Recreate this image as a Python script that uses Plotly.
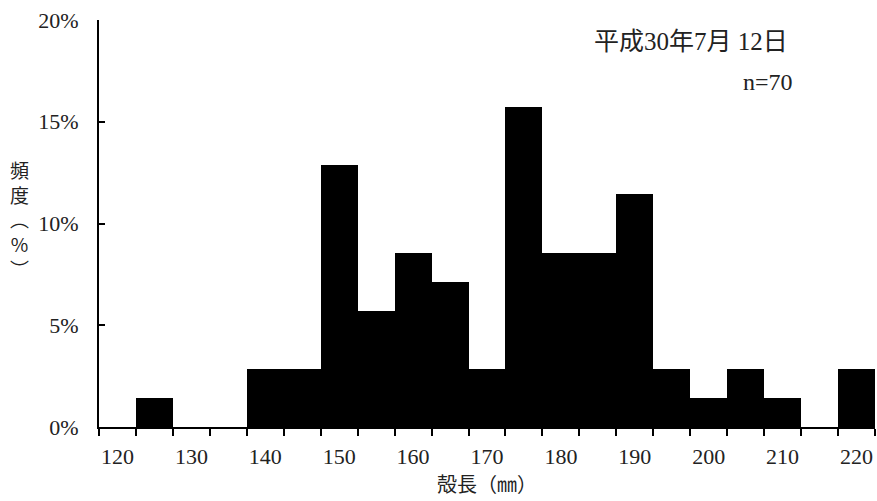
import plotly.graph_objects as go

# Shell length classes (mm, 5 mm bins) and individual counts
length_mm = [120, 125, 130, 135, 140, 145, 150, 155, 160, 165, 170,
             175, 180, 185, 190, 195, 200, 205, 210, 215, 220]
counts = [0, 1, 0, 0, 2, 2, 9, 4, 6, 5, 2,
          11, 6, 6, 8, 2, 1, 2, 1, 0, 2]
n_total = 70

x_tick_vals = [120, 130, 140, 150, 160, 170, 180, 190, 200, 210, 220]
y_tick_vals = [0, 0.05, 0.10, 0.15, 0.20]
y_tick_text = ["0%", "5%", "10%", "15%", "20%"]

freq = [c / n_total for c in counts]

# Serif for Latin/digits, CJK glyphs from Noto Sans CJK JP
FONT = "Liberation Serif, serif"
MIXED = "Liberation Serif, Noto Sans CJK JP"
CJK = "Noto Sans CJK JP"
TXT = "#222"

fig = go.Figure(go.Bar(
    x=length_mm,
    y=freq,
    width=5,
    marker=dict(color="black", line=dict(width=0)),
    hoverinfo="x+y",
))

fig.update_layout(
    width=877,
    height=501,
    margin=dict(l=99, r=2, t=20, b=74),
    paper_bgcolor="white",
    plot_bgcolor="white",
    bargap=0,
    showlegend=False,
    font=dict(family=FONT, size=21, color=TXT),
)

fig.update_xaxes(
    range=[117.5, 222.5],
    tickmode="array",
    tickvals=x_tick_vals,
    ticktext=[str(v) for v in x_tick_vals],
    ticks="",
    ticklabelstandoff=9,
    showline=True,
    linecolor="black",
    linewidth=2,
    showgrid=False,
    zeroline=False,
    tickfont=dict(family=FONT, size=22, color=TXT),
    minor=dict(ticks="outside", tick0=117.5, dtick=5, ticklen=7,
               tickwidth=2, tickcolor="black", showgrid=False),
    title=dict(text="殻長（㎜）", font=dict(family=CJK, size=20, color=TXT),
               standoff=10),
)

fig.update_yaxes(
    range=[0, 0.2],
    tickmode="array",
    tickvals=y_tick_vals,
    ticktext=y_tick_text,
    ticks="inside",
    ticklen=6,
    tickwidth=2,
    tickcolor="black",
    ticklabelstandoff=14,
    showline=True,
    linecolor="black",
    linewidth=2,
    showgrid=False,
    zeroline=False,
    tickfont=dict(family=FONT, size=22, color=TXT),
)

# Vertical axis title, characters stacked top to bottom
fig.add_annotation(
    xref="paper", yref="paper", x=-0.102, y=0.51,
    text="頻<br>度<br>︵<br>%<br>︶",
    showarrow=False, xanchor="center", yanchor="middle", align="center",
    font=dict(family=CJK, size=19, color=TXT),
)

fig.add_annotation(
    xref="paper", yref="paper", x=0.89, y=0.948,
    text="平成30年7月 12日",
    showarrow=False, xanchor="right", yanchor="middle",
    font=dict(family=MIXED, size=25, color=TXT),
)
fig.add_annotation(
    xref="paper", yref="paper", x=0.897, y=0.848,
    text="n=70", showarrow=False,
    xanchor="right", yanchor="middle",
    font=dict(family=FONT, size=24, color=TXT),
)

fig.write_html("out.html")
